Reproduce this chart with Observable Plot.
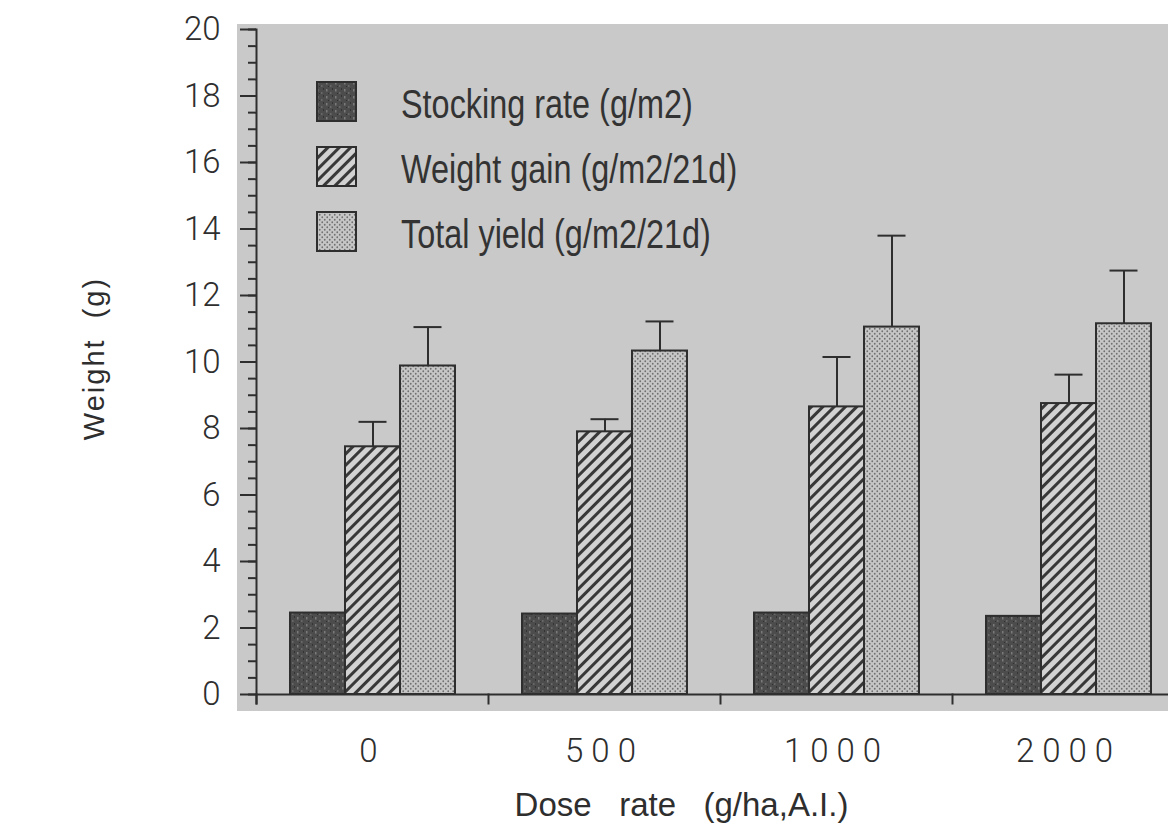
<!DOCTYPE html>
<html>
<head>
<meta charset="utf-8">
<script src="https://cdn.jsdelivr.net/npm/d3@7"></script>
<script src="https://cdn.jsdelivr.net/npm/@observablehq/plot@0.6"></script>
<style>
  html, body { margin: 0; padding: 0; background: #ffffff; overflow: hidden; }
  #wrap { position: relative; width: 1168px; height: 835px; overflow: hidden; }
  #bg { position: absolute; left: 237px; top: 24px; width: 931px; height: 687px; background: #c9c9c9; }
  #chart { position: absolute; left: 0; top: 0; }
  #chart svg { overflow: hidden; }
  #chart svg [aria-label="fx-axis tick label"] text { letter-spacing: 8px; }
  #chart svg [aria-label="fx-axis label"] { translate: -39px 0px; }
  #chart svg [aria-label="fx-axis label"] text { font-family: "Liberation Sans", sans-serif; font-weight: 400; }
  #chart svg [aria-label="y-axis label"] { translate: 0px -8px; }
  #chart svg [aria-label="y-axis label"] text { letter-spacing: 2px; font-family: "Liberation Sans", sans-serif; font-weight: 400; }
  #legend { position: absolute; left: 316px; top: 81px; font-family: "Liberation Sans", sans-serif; font-size: 40px; color: #333; }
  .row { position: absolute; left: 0; width: 420px; height: 41px; }
  .row svg { position: absolute; left: 0; top: 0; }
  .row span { position: absolute; left: 85px; top: 3px; line-height: 41px; white-space: nowrap; transform: scaleX(0.81); transform-origin: 0 50%; }
</style>
</head>
<body>
<div id="wrap">
  <div id="bg"></div>
  <div id="chart"></div>
  <div id="legend"></div>
</div>
<script>
// ---- data ----
const doses = ["0", "500", "1000", "2000"];
const seriesNames = ["Stocking rate (g/m2)", "Weight gain (g/m2/21d)", "Total yield (g/m2/21d)"];
const stockingRate = [2.45, 2.42, 2.45, 2.35];
const weightGain = [7.45, 7.9, 8.65, 8.75];
const weightGainUpper = [8.2, 8.28, 10.15, 9.62];
const totalYield = [9.88, 10.33, 11.05, 11.15];
const totalYieldUpper = [11.05, 11.22, 13.8, 12.75];
const yMajorTicks = [0, 2, 4, 6, 8, 10, 12, 14, 16, 18, 20];
const yMinorTicks = d3.range(0, 20.001, 0.5);

const rows = doses.flatMap((d, i) => [
  {dose: d, series: seriesNames[0], value: stockingRate[i], upper: null},
  {dose: d, series: seriesNames[1], value: weightGain[i], upper: weightGainUpper[i]},
  {dose: d, series: seriesNames[2], value: totalYield[i], upper: totalYieldUpper[i]}
]);
const errRows = rows.filter(r => r.upper != null);

const ink = "#2e2e2e";
const patterns = ["url(#pStock)", "url(#pHatch)", "url(#pDots)"];

const chart = Plot.plot({
  width: 1168,
  height: 835,
  marginLeft: 194,
  marginRight: 0,
  marginTop: 29,
  marginBottom: 132,
  style: {fontFamily: "Roboto, 'Liberation Sans', sans-serif", fontWeight: 300, color: ink, background: "transparent"},
  fx: {domain: doses, range: [256, 1184], padding: 0, label: null},
  x: {domain: seriesNames, paddingInner: 0, paddingOuter: 0.6, axis: null},
  y: {domain: [0, 20], range: [694, 29]},
  color: {domain: seriesNames, range: patterns},
  marks: [
    Plot.frame({anchor: "left", fx: "0", stroke: ink, strokeWidth: 2}),
    Plot.frame({anchor: "left", insetTop: 665, stroke: ink, strokeWidth: 2}),
    Plot.axisY({ticks: yMinorTicks, tickSize: 8, tickFormat: () => "", stroke: ink, strokeWidth: 2, label: null}),
    Plot.axisY({ticks: yMajorTicks, tickSize: 16, tickPadding: 20, fontSize: 33, stroke: ink, strokeWidth: 2, label: null}),
    Plot.axisY({ticks: [], tickSize: 0, fontSize: 29,
      label: "Weight  (g)", labelAnchor: "center", labelOffset: 173, labelArrow: "none"}),
    Plot.barY(rows, {fx: "dose", x: "series", y: "value", fill: "series", stroke: ink, strokeWidth: 2}),
    Plot.ruleX(errRows, {fx: "dose", x: "series", y1: "value", y2: "upper", stroke: ink, strokeWidth: 2}),
    Plot.tickY(errRows, {fx: "dose", x: "series", y: "upper", insetLeft: 13.5, insetRight: 13.5, stroke: ink, strokeWidth: 2}),
    Plot.ruleY([0], {stroke: ink, strokeWidth: 2}),
    Plot.axisFx({anchor: "bottom", tickSize: 0, tickPadding: 35, fontSize: 33, label: null}),
    Plot.axisFx({anchor: "bottom", ticks: [], tickSize: 0, fontSize: 33,
      label: "Dose   rate   (g/ha,A.I.)", labelAnchor: "center", labelOffset: 112, labelArrow: "none"})
  ]
});

d3.select(chart).insert("defs", ":first-child").html(`
  <pattern id="pStock" width="9" height="7" patternUnits="userSpaceOnUse">
    <rect width="9" height="7" fill="#4c4c4c"/>
    <rect x="1" y="1" width="1.5" height="2.5" fill="#7a7a7a"/>
    <rect x="5" y="4" width="1.5" height="2" fill="#686868"/>
    <rect x="3" y="5" width="1" height="1" fill="#303030"/>
    <rect x="7" y="0" width="1" height="2" fill="#343434"/>
  </pattern>
  <pattern id="pHatch" width="8" height="8" patternUnits="userSpaceOnUse" patternTransform="rotate(45)">
    <rect width="8" height="8" fill="#d2d2d2"/>
    <rect width="3" height="8" fill="#383838"/>
  </pattern>
  <pattern id="pDots" width="5" height="5" patternUnits="userSpaceOnUse">
    <rect width="5" height="5" fill="#c6c6c6"/>
    <circle cx="1.25" cy="1.25" r="0.9" fill="#707070"/>
    <circle cx="3.75" cy="3.75" r="0.9" fill="#707070"/>
  </pattern>
`);

document.getElementById("chart").appendChild(chart);

// legend
const legend = d3.select("#legend");
seriesNames.forEach((name, i) => {
  const row = legend.append("div").attr("class", "row").style("top", (i * 65) + "px");
  const sw = row.append("svg").attr("width", 41).attr("height", 41);
  sw.append("rect").attr("x", 1).attr("y", 1).attr("width", 39).attr("height", 39)
    .attr("fill", patterns[i]).attr("stroke", ink).attr("stroke-width", 2);
  row.append("span").text(name);
});
</script>
</body>
</html>
